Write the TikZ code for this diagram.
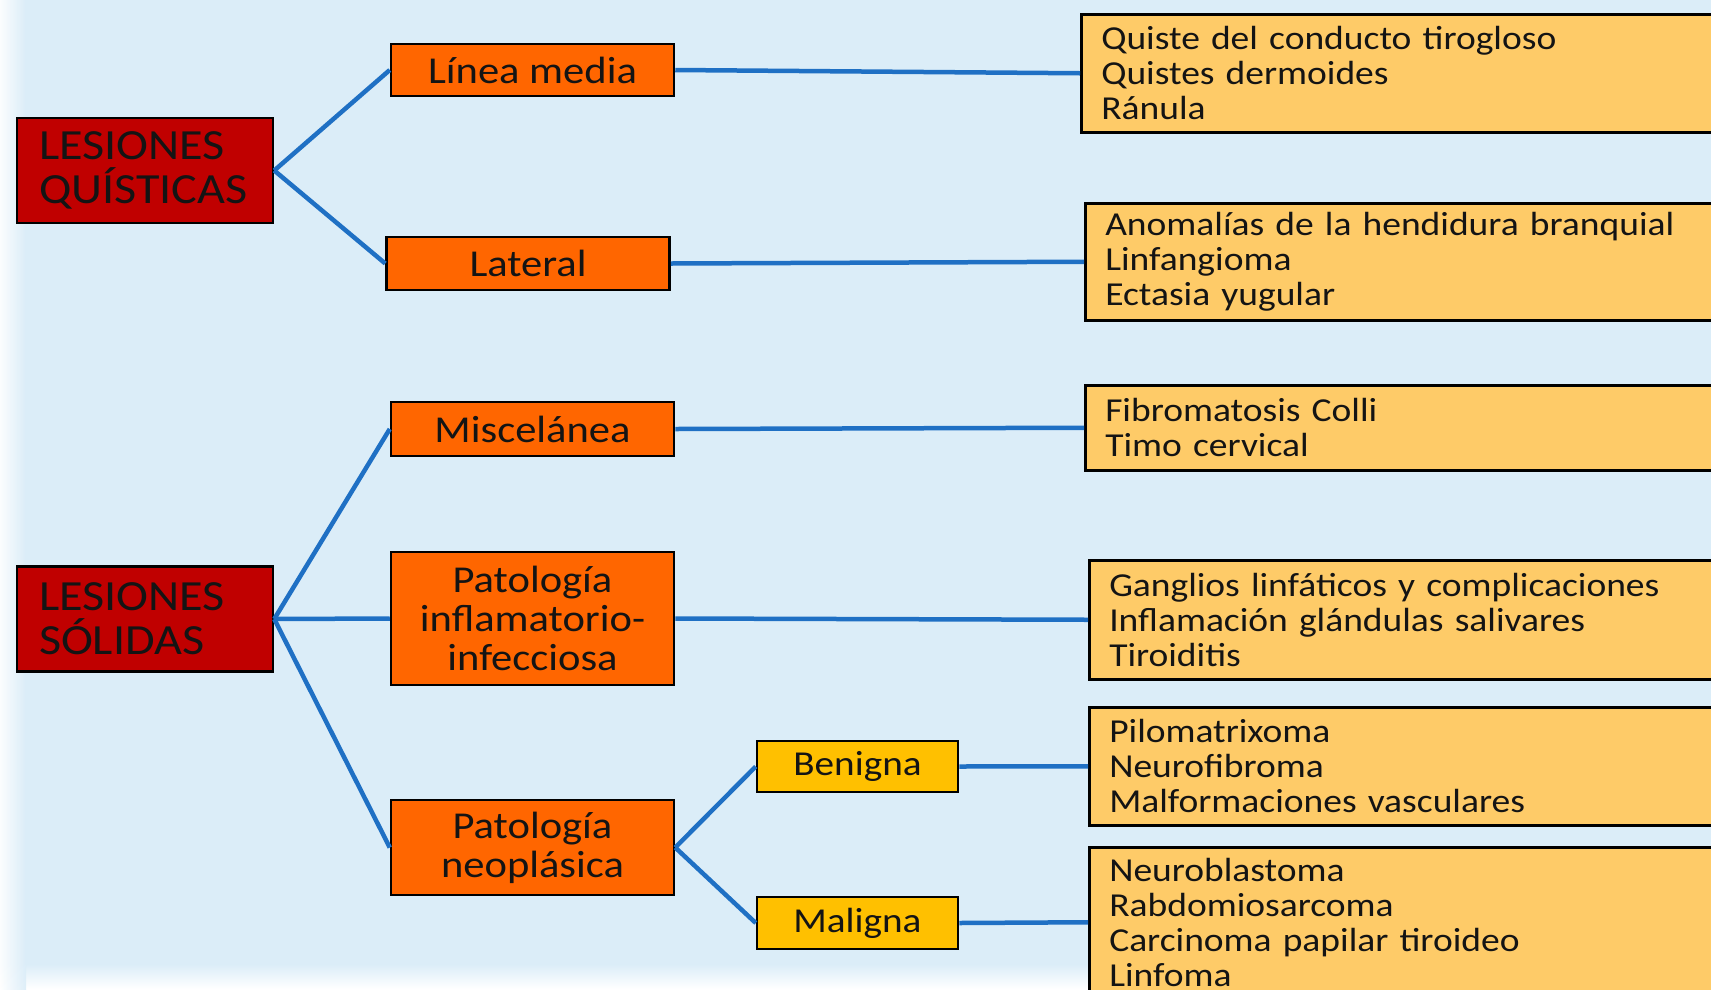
\documentclass[tikz,border=0pt]{standalone}
\usepackage{fontspec}
\setmainfont{Carlito}[FakeStretch=1.12]
\definecolor{bgc}{HTML}{DBEDF8}
\definecolor{dred}{HTML}{C00000}
\definecolor{orng}{HTML}{FF6600}
\definecolor{gold}{HTML}{FFC000}
\definecolor{lyel}{HTML}{FECB68}
\definecolor{lblue}{HTML}{1F70C4}
\definecolor{ink}{HTML}{141414}
\begin{document}
\begin{tikzpicture}[x=1pt,y=-1pt,
  box/.style={draw=black, line width=2.5pt, rectangle, inner sep=0pt, text=ink},
  topbox/.style={box, fill=dred, minimum width=256pt, minimum height=105pt, text width=212pt, align=left, font=\fontsize{43}{44}\selectfont},
  midbox/.style={box, fill=orng, minimum width=283pt, align=center, font=\fontsize{38}{39}\selectfont},
  subbox/.style={box, fill=gold, minimum width=201pt, minimum height=51pt, font=\fontsize{35}{36}\selectfont},
  lstbox/.style={box, fill=lyel, anchor=north west, minimum width=700pt, text width=660pt, align=left, font=\fontsize{33.5}{35}\selectfont},
  link/.style={draw=lblue, line width=4.5pt}
]
\useasboundingbox (0,0) rectangle (1711,989);
\clip (0,0) rectangle (1711,989);
\fill[bgc] (0,0) rectangle (1711,989);
% faded edges
\shade[top color=bgc, bottom color=white] (0,964) rectangle (1711,989);
\shade[left color=white, right color=bgc, opacity=0.9] (0,0) rectangle (26,989);

% main nodes
\node[topbox] (lq) at (145,170.5) {LESIONES\\QUÍSTICAS};
\node[topbox] (ls) at (145,619) {LESIONES\\SÓLIDAS};

\node[midbox, minimum height=52pt] (lm) at (532.5,70) {Línea media};
\node[midbox, minimum height=53pt] (lat) at (528,263.5) {Lateral};
\node[midbox, minimum height=54pt] (mis) at (532.5,429) {Miscelánea};
\node[midbox, minimum height=133pt] (inf) at (532.5,618.5) {Patología\\inflamatorio-\\infecciosa};
\node[midbox, minimum height=95pt] (neo) at (532.5,847.5) {Patología\\neoplásica};

\node[subbox] (ben) at (857.5,766.5) {Benigna};
\node[subbox, minimum height=52pt] (mal) at (857.5,923) {Maligna};

\node[lstbox, minimum height=118pt] (l1) at (1080,13) {Quiste del conducto tirogloso\\Quistes dermoides\\Ránula};
\node[lstbox, minimum height=117pt] (l2) at (1084,202) {Anomalías de la hendidura branquial\\Linfangioma\\Ectasia yugular};
\node[lstbox, minimum height=85pt] (l3) at (1084,384) {Fibromatosis Colli\\Timo cervical};
\node[lstbox, minimum height=119pt] (l4) at (1088,559) {Ganglios linfáticos y complicaciones\\Inflamación glándulas salivares\\Tiroiditis};
\node[lstbox, minimum height=118pt] (l5) at (1088,706) {Pilomatrixoma\\Neurofibroma\\Malformaciones vasculares};
\node[lstbox, minimum height=150pt] (l6) at (1088,846) {Neuroblastoma\\Rabdomiosarcoma\\Carcinoma papilar tiroideo\\Linfoma};

% connectors
\draw[link] (lq.east) -- (lm.west);
\draw[link] (lq.east) -- (lat.west);
\draw[link] (ls.east) -- (mis.west);
\draw[link] (ls.east) -- (inf.west);
\draw[link] (ls.east) -- (neo.west);
\draw[link] (neo.east) -- (ben.west);
\draw[link] (neo.east) -- (mal.west);
\draw[link] (lm.east) -- (l1.west);
\draw[link] (lat.east) -- (l2.west);
\draw[link] (mis.east) -- (l3.west);
\draw[link] (inf.east) -- (l4.west);
\draw[link] (ben.east) -- (l5.west);
\draw[link] (mal.east) -- (l6.west);
\end{tikzpicture}
\end{document}
